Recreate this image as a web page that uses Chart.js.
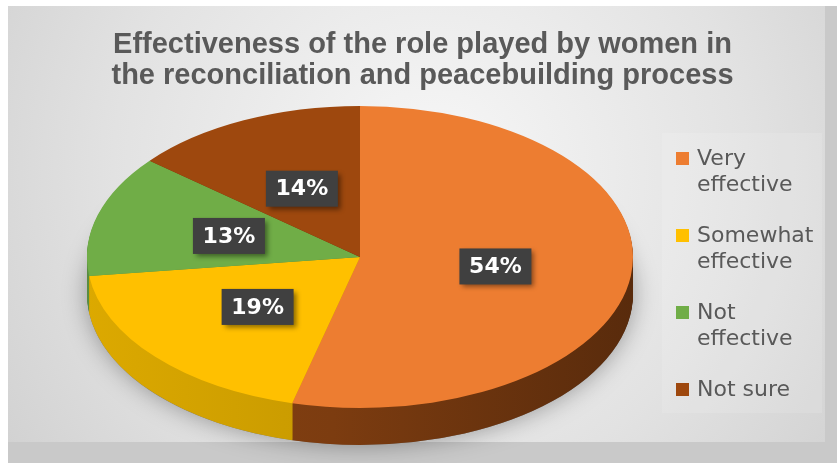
<!DOCTYPE html>
<html>
<head>
<meta charset="utf-8">
<script src="https://cdn.jsdelivr.net/npm/chart.js@4.4.1/dist/chart.umd.min.js"></script>
<style>
  html, body { margin: 0; padding: 0; background: #fff; }
  #wrap { width: 837px; height: 463px; }
</style>
</head>
<body>
<div id="wrap"><canvas id="pie"></canvas></div>
<script>
/* ---------- data ---------- */
const categories = [["Very", "effective"], ["Somewhat", "effective"], ["Not", "effective"], ["Not sure"]];
const shares = [54, 19, 13, 14];
const titleLines = ["Effectiveness of the role played by women in", "the reconciliation and peacebuilding process"];

/* ---------- look ---------- */
const topColors = ["#ED7D31", "#FFC000", "#70AD47", "#9E480E"];
const sideColors = ["#7c3c10", "#c89a00", "#51803a", "#6c310a"];

// tilted pie: where the ellipse sits on the page and how thick it is
const PIE = { cx: 360, cy: 257, rx: 273, ry: 151, depth: 37 };

function shade(hex, f) {
    const n = parseInt(hex.slice(1), 16);
    const c = [n >> 16, (n >> 8) & 255, n & 255].map(v => Math.max(0, Math.min(255, Math.round(v * f))));
    return `rgb(${c[0]},${c[1]},${c[2]})`;
}

function tilt(ctx, arc) {
    ctx.translate(PIE.cx, PIE.cy);
    ctx.scale(PIE.rx / arc.outerRadius, PIE.ry / arc.outerRadius);
    ctx.translate(-arc.x, -arc.y);
}

function toScreen(arc, p) {
    return {
        x: PIE.cx + (p.x - arc.x) * PIE.rx / arc.outerRadius,
        y: PIE.cy + (p.y - arc.y) * PIE.ry / arc.outerRadius
    };
}

/* ---------- background panel ---------- */
const panel = {
    id: "panel",
    beforeDraw(chart) {
        const ctx = chart.ctx;
        ctx.save();
        ctx.fillStyle = "#ffffff";
        ctx.fillRect(0, 0, chart.width, chart.height);
        ctx.fillStyle = "#c9c9c9";
        ctx.fillRect(8, 6, chart.width - 8, chart.height - 6);
        const g = ctx.createRadialGradient(430, 170, 20, 430, 170, 560);
        g.addColorStop(0, "#f6f6f6");
        g.addColorStop(0.55, "#e2e2e2");
        g.addColorStop(1, "#cdcdcd");
        ctx.fillStyle = g;
        ctx.fillRect(8, 6, 817, 436);
        // faint lighter band behind the legend
        ctx.fillStyle = "rgba(255,255,255,0.12)";
        ctx.fillRect(662, 133, 160, 280);
        ctx.restore();
    }
};

/* ---------- 3D pie: side walls, tilt, labels ---------- */
const pie3d = {
    id: "pie3d",
    beforeDatasetsDraw(chart) {
        const ctx = chart.ctx;
        const arcs = chart.getDatasetMeta(0).data;
        const a0 = arcs[0];
        const step = a0.outerRadius / PIE.ry;   // one screen pixel down, in arc space
        const r = a0.outerRadius;

        ctx.save();
        tilt(ctx, a0);

        // soft shadow under the disc
        ctx.save();
        ctx.shadowColor = "rgba(0,0,0,0.35)";
        ctx.shadowBlur = 24;
        ctx.fillStyle = "#777";
        ctx.beginPath();
        ctx.arc(a0.x, a0.y + PIE.depth * step, r, 0, Math.PI * 2);
        ctx.fill();
        ctx.restore();

        const fills = arcs.map((a, i) => {
            const g = ctx.createLinearGradient(a.x - r, 0, a.x + r, 0);
            g.addColorStop(0, shade(sideColors[i], 1.1));
            g.addColorStop(0.45, sideColors[i]);
            g.addColorStop(1, shade(sideColors[i], 0.72));
            return g;
        });

        for (let d = PIE.depth; d > 0; d--) {
            arcs.forEach((a, i) => {
                ctx.fillStyle = fills[i];
                ctx.beginPath();
                ctx.moveTo(a.x, a.y + d * step);
                ctx.arc(a.x, a.y + d * step, r, a.startAngle, a.endAngle);
                ctx.closePath();
                ctx.fill();
            });
        }
        // the top faces are drawn by the library inside this transform
    },
    afterDatasetsDraw(chart) {
        const ctx = chart.ctx;
        ctx.restore();

        const arcs = chart.getDatasetMeta(0).data;
        const values = chart.data.datasets[0].data;
        ctx.save();
        ctx.font = "bold 22px 'DejaVu Sans'";
        ctx.textAlign = "center";
        ctx.textBaseline = "middle";
        arcs.forEach((a, i) => {
            const p = toScreen(arcs[0], a.getCenterPoint());
            const w = 72, h = 36;
            ctx.save();
            ctx.shadowColor = "rgba(0,0,0,0.45)";
            ctx.shadowBlur = 5;
            ctx.shadowOffsetX = 3;
            ctx.shadowOffsetY = 3;
            ctx.fillStyle = "#404040";
            ctx.fillRect(p.x - w / 2, p.y - h / 2, w, h);
            ctx.restore();
            ctx.fillStyle = "#ffffff";
            ctx.fillText(values[i] + "%", p.x, p.y + 1);
        });
        ctx.restore();
    }
};

/* ---------- legend on the right ---------- */
const sideLegend = {
    id: "sideLegend",
    afterDraw(chart) {
        const ctx = chart.ctx;
        const colors = chart.data.datasets[0].backgroundColor;
        const lineH = 26, gap = 25;
        let y = 165;   // first baseline
        ctx.save();
        ctx.font = "22px 'DejaVu Sans'";
        ctx.textAlign = "left";
        ctx.textBaseline = "alphabetic";
        chart.data.labels.forEach((lines, i) => {
            ctx.fillStyle = colors[i];
            ctx.fillRect(676, y - 13, 13, 13);
            ctx.fillStyle = "#595959";
            lines.forEach((t, k) => ctx.fillText(t, 697, y + k * lineH));
            y += lines.length * lineH + gap;
        });
        ctx.restore();
    }
};

new Chart(document.getElementById("pie"), {
    type: "pie",
    data: {
        labels: categories,
        datasets: [{
            data: shares,
            backgroundColor: topColors,
            borderWidth: 0,
            clip: false
        }]
    },
    options: {
        responsive: true,
        maintainAspectRatio: false,
        animation: false,
        events: [],
        layout: { padding: { left: 8, right: 0, top: 6, bottom: 40 } },
        plugins: {
            legend: { display: false },
            tooltip: { enabled: false },
            title: {
                display: true,
                text: titleLines,
                color: "#595959",
                font: { family: "'Liberation Sans'", size: 29, weight: "bold", lineHeight: 1.07 },
                padding: { top: 23, bottom: 10 }
            }
        }
    },
    plugins: [panel, pie3d, sideLegend]
});
</script>
</body>
</html>
